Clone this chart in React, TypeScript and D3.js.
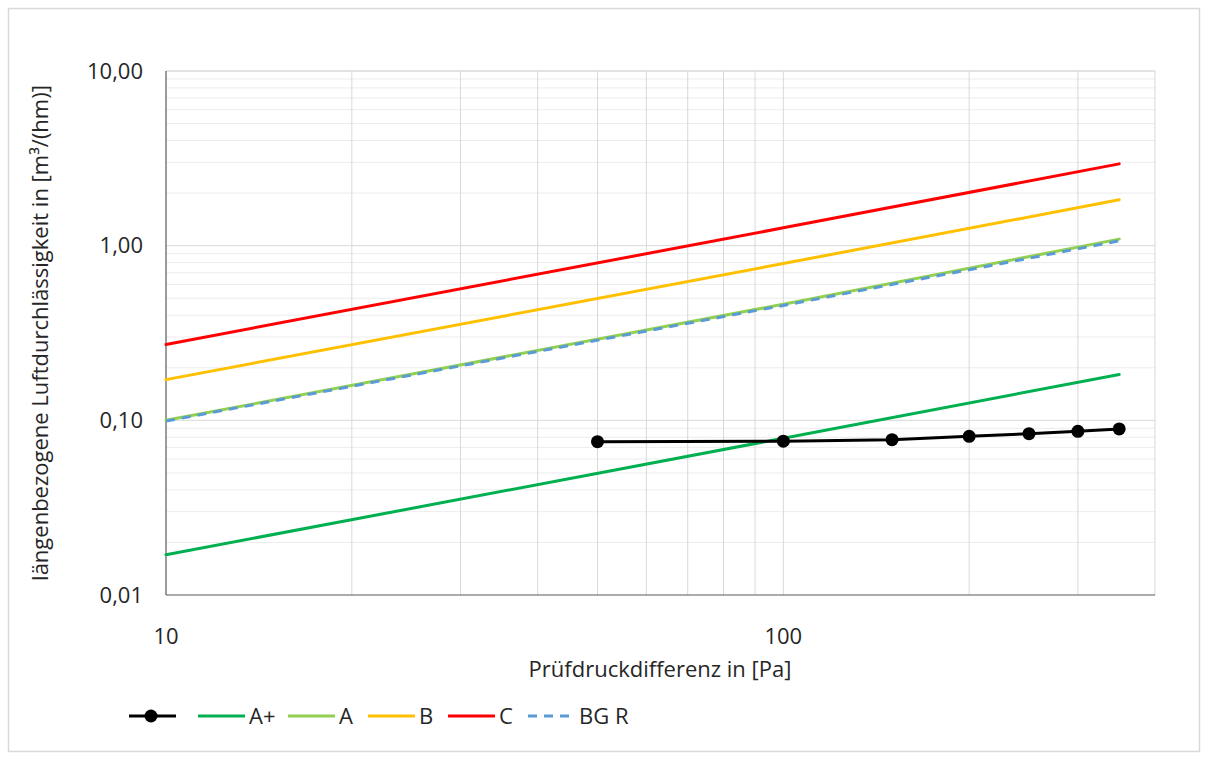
import React from "react";
import * as d3 from "d3";

const pressure = [10, 100, 350];
const classAPlus = [0.017, 0.079, 0.183];
const classA = [0.1, 0.462, 1.09];
const classB = [0.171, 0.79, 1.83];
const classC = [0.272, 1.265, 2.94];
const classBGR = [0.099, 0.455, 1.065];

const measPressure = [50, 100, 150, 200, 250, 300, 350];
const measured = [0.0755, 0.076, 0.0775, 0.081, 0.0839, 0.0865, 0.0893];

const yTicks = [0.01, 0.1, 1, 10];
const xTicks = [10, 100];

const W = 1208, H = 760;
const M = { left: 166, right: 1155, top: 71, bottom: 595 };
const FONT = "'Open Sans', Lato, sans-serif";
const FS = 22;

export default function App() {
  const x = d3.scaleLog().domain([10, 400]).range([M.left, M.right]);
  const y = d3.scaleLog().domain([0.01, 10]).range([M.bottom, M.top]);

  const xMinor: number[] = [];
  for (const dec of [10, 100]) for (let k = 1; k <= 9; k++) { const v = dec * k; if (v > 10 && v <= 400) xMinor.push(v); }
  const yMinor: number[] = [];
  for (const dec of [0.01, 0.1, 1]) for (let k = 2; k <= 10; k++) yMinor.push(dec * k);

  const line = d3.line<[number, number]>().x(d => x(d[0])).y(d => y(d[1]));
  const mk = (xs: number[], ys: number[]) => line(xs.map((v, i) => [v, ys[i]] as [number, number])) || "";

  const series = [
    { name: "A+", data: classAPlus, color: "#00B050", dash: undefined as string | undefined },
    { name: "A", data: classA, color: "#92D050", dash: undefined },
    { name: "B", data: classB, color: "#FFC000", dash: undefined },
    { name: "C", data: classC, color: "#FF0000", dash: undefined },
    { name: "BG R", data: classBGR, color: "#5B9BD5", dash: "9,7" },
  ];

  const legendItems = [
    { x0: 129, label: "", color: "#000", dash: undefined as string | undefined, marker: true },
    { x0: 198, label: "A+", color: "#00B050", dash: undefined, marker: false },
    { x0: 288, label: "A", color: "#92D050", dash: undefined, marker: false },
    { x0: 368, label: "B", color: "#FFC000", dash: undefined, marker: false },
    { x0: 448, label: "C", color: "#FF0000", dash: undefined, marker: false },
    { x0: 528, label: "BG R", color: "#5B9BD5", dash: "9,7", marker: false },
  ];
  const ly = 716;

  return (
    <svg width={W} height={H} style={{ position: "absolute", left: 0, top: 0, fontFamily: FONT }}>
      <rect x={0} y={0} width={W} height={H} fill="#fff" />
      <rect x={8.5} y={8.5} width={1191} height={743} fill="#fff" stroke="#d9d9d9" strokeWidth={1.5} />
      {yMinor.map((v, i) => (
        <line key={"ym" + i} x1={M.left} x2={M.right} y1={y(v)} y2={y(v)} stroke={yTicks.includes(+v.toPrecision(3)) ? "#d9d9d9" : "#ececec"} strokeWidth={1} />
      ))}
      {xMinor.map((v, i) => (
        <line key={"xm" + i} x1={x(v)} x2={x(v)} y1={M.top} y2={M.bottom} stroke="#d9d9d9" strokeWidth={1} />
      ))}
      <line x1={M.left} x2={M.right} y1={M.top} y2={M.top} stroke="#d9d9d9" />
      <line x1={M.left} x2={M.left} y1={M.top} y2={M.bottom} stroke="#595959" strokeWidth={1.2} />
      <line x1={M.left} x2={M.right} y1={M.bottom} y2={M.bottom} stroke="#595959" strokeWidth={1.2} />
      {yTicks.map(v => (
        <text key={"yt" + v} x={143} y={y(v)} dy="0.35em" textAnchor="end" fontSize={FS} fill="#262626">
          {d3.format(".2f")(v).replace(".", ",")}
        </text>
      ))}
      {xTicks.map(v => (
        <text key={"xt" + v} x={x(v)} y={636} dy="0.35em" textAnchor="middle" fontSize={FS} fill="#262626">{v}</text>
      ))}
      <text x={660} y={669} dy="0.35em" textAnchor="middle" fontSize={FS} fill="#262626">Prüfdruckdifferenz in [Pa]</text>
      <text transform={`translate(40,${(M.top + M.bottom) / 2}) rotate(-90)`} dy="0.35em" textAnchor="middle" fontSize={FS} fill="#262626">
        längenbezogene Luftdurchlässigkeit in [m³/(hm)]
      </text>
      {series.map(s => (
        <path key={s.name} d={mk(pressure, s.data)} fill="none" stroke={s.color} strokeWidth={3} strokeDasharray={s.dash} strokeLinecap={s.dash ? "butt" : "round"} />
      ))}
      <path d={mk(measPressure, measured)} fill="none" stroke="#000" strokeWidth={3} />
      {measPressure.map((p, i) => (
        <circle key={"m" + i} cx={x(p)} cy={y(measured[i])} r={6.5} fill="#000" />
      ))}
      {legendItems.map((it, i) => (
        <g key={"lg" + i}>
          <line x1={it.x0} x2={it.x0 + 47} y1={ly} y2={ly} stroke={it.color} strokeWidth={3} strokeDasharray={it.dash} />
          {it.marker && <circle cx={it.x0 + 22} cy={ly} r={6.5} fill="#000" />}
          {it.label && <text x={it.x0 + 51} y={ly} dy="0.35em" fontSize={FS} fill="#262626">{it.label}</text>}
        </g>
      ))}
    </svg>
  );
}
